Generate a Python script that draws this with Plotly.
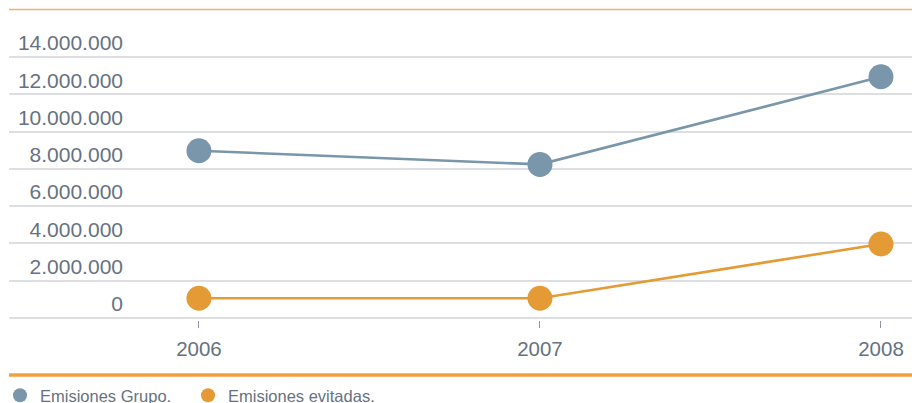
import plotly.graph_objects as go

years = [2006, 2007, 2008]
year_labels = ["2006", "2007", "2008"]
emisiones_grupo = [8970000, 8240000, 12940000]
emisiones_evitadas = [1060000, 1060000, 3970000]
y_tick_vals = [0, 2000000, 4000000, 6000000, 8000000, 10000000, 12000000, 14000000]
y_tick_text = ["0", "2.000.000", "4.000.000", "6.000.000", "8.000.000",
               "10.000.000", "12.000.000", "14.000.000"]
series_names = ["Emisiones Grupo.", "Emisiones evitadas."]

BLUE = "#7a96aa"
ORANGE = "#e49a35"
TEXT = "#66727f"
GRID = "#dcdee2"

W, H = 912, 403
ML, MR, MT, MB = 9, 0, 55, 83

fig = go.Figure()
for vals, color, name, lg in [(emisiones_grupo, BLUE, series_names[0], "legend"),
                              (emisiones_evitadas, ORANGE, series_names[1], "legend2")]:
    fig.add_trace(go.Scatter(
        x=years, y=vals, mode="lines+markers", name=name,
        line=dict(color=color, width=2.6),
        marker=dict(color=color, size=25),
        showlegend=False, hoverinfo="x+y"))
    fig.add_trace(go.Scatter(
        x=[None], y=[None], mode="markers", name=name, legend=lg,
        marker=dict(color=color, size=14), showlegend=True))

plot_w = W - ML - MR
plot_h = H - MT - MB
pad = 14000000 * 2 / (plot_h - 4)
legend_common = dict(
    orientation="h", xref="container", yref="container",
    y=1 - 378 / H, xanchor="left", yanchor="top",
    font=dict(size=16.5, color=TEXT), bgcolor="rgba(0,0,0,0)",
    itemclick=False, itemdoubleclick=False,
)
fig.update_layout(
    width=W, height=H,
    margin=dict(l=ML, r=MR, t=MT, b=MB),
    paper_bgcolor="white", plot_bgcolor="white",
    font=dict(family="Liberation Sans, Arial, sans-serif", color=TEXT),
    xaxis=dict(
        range=[2005.443, 2008.091], tickvals=years, ticktext=year_labels,
        showgrid=False, zeroline=False, showline=False,
        ticks="outside", ticklen=7, tickwidth=1, tickcolor="#8a949e",
        ticklabelstandoff=3,
        tickfont=dict(size=20.5, color=TEXT), fixedrange=True,
    ),
    yaxis=dict(
        range=[-pad, 14000000 + pad], tickvals=y_tick_vals, ticktext=y_tick_text,
        showgrid=True, gridcolor=GRID, gridwidth=1.5, zeroline=False, showline=False,
        anchor="free", position=(123 - ML) / plot_w,
        ticks="", ticklabelshift=-14,
        tickfont=dict(size=21, color=TEXT), fixedrange=True,
    ),
    legend=dict(x=0, **legend_common),
    legend2=dict(x=188 / W, **legend_common),
    shapes=[
        dict(type="line", xref="paper", yref="paper", x0=0, x1=1,
             y0=1 + (MT - 9.5) / plot_h, y1=1 + (MT - 9.5) / plot_h,
             line=dict(color="#f0b070", width=1.3)),
        dict(type="line", xref="paper", yref="paper", x0=0, x1=1,
             y0=-(375 - (H - MB)) / plot_h, y1=-(375 - (H - MB)) / plot_h,
             line=dict(color="#f0a03e", width=3.5)),
    ],
)

fig.write_html("out.html", config={"displayModeBar": False},
               post_script="document.body.style.margin='0';document.body.style.overflow='hidden';")
